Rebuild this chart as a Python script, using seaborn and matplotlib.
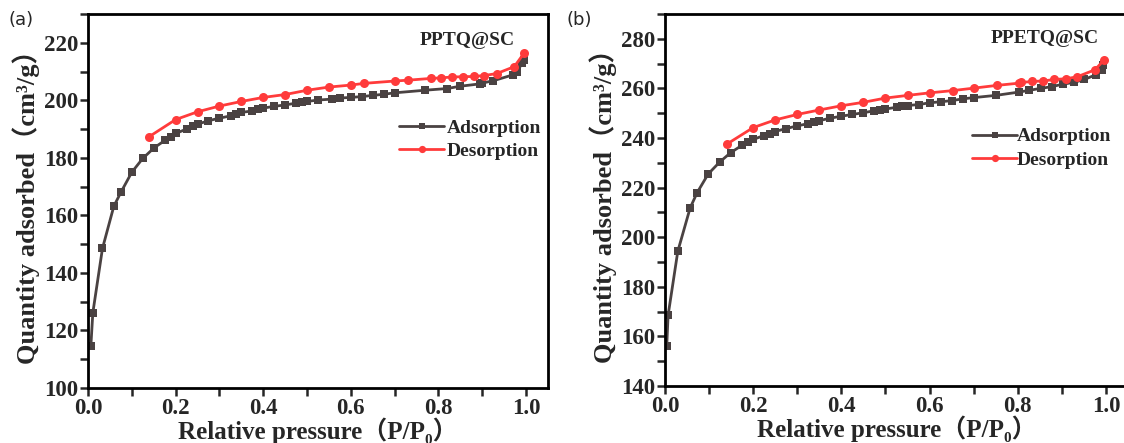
import numpy as np
import pandas as pd
import matplotlib
matplotlib.use("Agg")
import matplotlib.pyplot as plt
from matplotlib.ticker import MultipleLocator, FormatStrFormatter
import seaborn as sns

# ---- PPTQ@SC isotherm ----
a_ads_p = [0.0065, 0.011, 0.033, 0.059, 0.075, 0.100, 0.125, 0.151, 0.176, 0.189,
           0.201, 0.226, 0.239, 0.250, 0.275, 0.300, 0.326, 0.338, 0.350, 0.375,
           0.388, 0.400, 0.425, 0.450, 0.475, 0.488, 0.500, 0.525, 0.556, 0.575,
           0.600, 0.625, 0.650, 0.675, 0.700, 0.769, 0.820, 0.850, 0.894, 0.900,
           0.925, 0.969, 0.980, 0.990, 0.995]
a_ads_q = [114.5, 126.1, 148.5, 163.2, 168.0, 175.0, 179.8, 183.5, 186.1, 187.4,
           188.5, 190.1, 191.0, 191.7, 192.9, 193.8, 194.6, 195.2, 195.8, 196.3,
           196.9, 197.3, 197.9, 198.4, 199.0, 199.4, 199.6, 200.1, 200.4, 200.8,
           201.0, 201.3, 201.7, 202.1, 202.6, 203.5, 204.1, 204.9, 205.7, 206.0,
           206.8, 208.8, 209.9, 212.8, 214.0]
a_des_p = [0.995, 0.973, 0.933, 0.904, 0.881, 0.857, 0.831, 0.806, 0.782, 0.731,
           0.700, 0.631, 0.600, 0.550, 0.500, 0.450, 0.400, 0.350, 0.300, 0.250,
           0.200, 0.140]
a_des_q = [216.3, 211.7, 209.3, 208.6, 208.3, 208.2, 208.1, 207.8, 207.6, 207.0,
           206.7, 205.9, 205.3, 204.6, 203.5, 202.0, 201.0, 199.6, 198.0, 196.0,
           193.3, 187.4]

# ---- PPETQ@SC isotherm ----
b_ads_p = [0.004, 0.007, 0.029, 0.057, 0.073, 0.098, 0.124, 0.149, 0.175, 0.188,
           0.200, 0.224, 0.238, 0.249, 0.275, 0.300, 0.325, 0.337, 0.350, 0.375,
           0.400, 0.425, 0.450, 0.475, 0.488, 0.500, 0.526, 0.538, 0.550, 0.576,
           0.600, 0.625, 0.651, 0.676, 0.701, 0.751, 0.802, 0.825, 0.852, 0.877,
           0.902, 0.927, 0.951, 0.977, 0.990, 0.994]
b_ads_q = [156.3, 168.5, 194.3, 211.8, 218.0, 225.5, 230.3, 234.1, 237.1, 238.3,
           239.4, 241.0, 241.8, 242.6, 243.8, 244.9, 245.8, 246.4, 247.0, 248.0,
           248.8, 249.5, 250.2, 251.0, 251.3, 251.7, 252.4, 252.8, 253.1, 253.5,
           254.2, 254.6, 255.1, 255.8, 256.3, 257.2, 258.5, 259.2, 260.0, 260.7,
           261.7, 262.4, 263.6, 265.5, 267.5, 269.5]
b_des_p = [0.996, 0.975, 0.935, 0.910, 0.883, 0.858, 0.833, 0.808, 0.802, 0.752,
           0.700, 0.652, 0.600, 0.551, 0.500, 0.450, 0.400, 0.350, 0.300, 0.250,
           0.200, 0.140]
b_des_q = [271.5, 267.5, 264.7, 263.9, 263.6, 263.0, 262.8, 262.4, 262.1, 261.2,
           260.1, 259.1, 258.2, 257.2, 256.1, 254.4, 253.0, 251.3, 249.5, 247.3,
           244.2, 237.5]

panels = [
    dict(tag="(a)", name="PPTQ@SC", ads=(a_ads_p, a_ads_q), des=(a_des_p, a_des_q),
         ylim=(100, 230)),
    dict(tag="(b)", name="PPETQ@SC", ads=(b_ads_p, b_ads_q), des=(b_des_p, b_des_q),
         ylim=(140, 290)),
]

sns.set_theme(style="ticks")
plt.rcParams["font.family"] = ["Liberation Serif", "Noto Sans CJK SC", "DejaVu Serif"]
plt.rcParams["font.weight"] = "bold"

ADS_COLOR = "#4a4242"
DES_COLOR = "#ff3b3b"

W, H = 1124, 443
fig = plt.figure(figsize=(W / 100, H / 100), dpi=100)

# per-panel layout: axes box in pixels (left, top, right, bottom),
# legend anchor, sample-name anchor, panel tag x
layout = [
    dict(box=(88, 14, 548, 388), leg=(0.66, 0.74), name=(0.928, 0.93), tag_x=8,
         hpad=0.15, hlen=2.3),
    dict(box=(665, 14, 1128, 386), leg=(0.647, 0.715), name=(0.937, 0.933), tag_x=567,
         hpad=0.0, hlen=2.3),
]

for cfg, lay in zip(panels, layout):
    l, t, r, b = lay["box"]
    ax = fig.add_axes([l / W, 1 - b / H, (r - l) / W, (b - t) / H])
    ads = pd.DataFrame({"p": cfg["ads"][0], "q": cfg["ads"][1]})
    des = pd.DataFrame({"p": cfg["des"][0], "q": cfg["des"][1]})
    sns.lineplot(data=ads, x="p", y="q", ax=ax, color=ADS_COLOR, marker="s",
                 markersize=5.5, markeredgewidth=0, linewidth=2, sort=False,
                 estimator=None, label="Adsorption")
    sns.lineplot(data=des, x="p", y="q", ax=ax, color=DES_COLOR, marker="o",
                 markersize=6.5, markeredgewidth=0, linewidth=2, sort=False,
                 estimator=None, label="Desorption")

    ax.set_xlim(0, 1.05)
    ax.set_ylim(*cfg["ylim"])
    ax.xaxis.set_major_locator(MultipleLocator(0.2))
    ax.xaxis.set_minor_locator(MultipleLocator(0.1))
    ax.yaxis.set_major_locator(MultipleLocator(20))
    ax.yaxis.set_minor_locator(MultipleLocator(10))
    ax.xaxis.set_major_formatter(FormatStrFormatter("%.1f"))
    ax.tick_params(which="both", direction="out", width=1.8, length=5.5,
                   labelsize=16.5, pad=1.5, top=False, right=False)
    for lab in ax.get_xticklabels() + ax.get_yticklabels():
        lab.set_fontweight("bold")
    for sp in ax.spines.values():
        sp.set_linewidth(2)
        sp.set_color("black")

    ax.set_xlabel("Relative pressure（P/P₀）", fontsize=18, fontweight="bold",
                  labelpad=-1)
    ax.set_ylabel("Quantity adsorbed（cm³/g）", fontsize=19, fontweight="bold",
                  labelpad=3)

    ax.text(lay["name"][0], lay["name"][1], cfg["name"], transform=ax.transAxes,
            ha="right", va="center", fontsize=14, fontweight="bold")

    ax.legend(loc="upper left", bbox_to_anchor=lay["leg"], frameon=False,
              prop={"size": 14, "weight": "bold"}, handlelength=lay["hlen"],
              handletextpad=lay["hpad"], labelspacing=0.3, borderaxespad=0,
              markerscale=0.8)

    fig.text(lay["tag_x"] / W, 1 - 20 / H, cfg["tag"], fontsize=13,
             family="DejaVu Sans", fontweight="normal", va="center", ha="left")

fig.savefig("out.png", dpi=100)
